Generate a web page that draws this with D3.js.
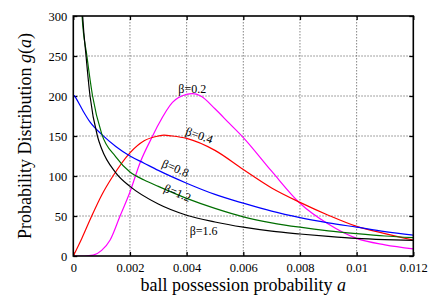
<!DOCTYPE html>
<html>
<head>
<meta charset="utf-8">
<script src="https://cdn.jsdelivr.net/npm/d3@7"></script>
<style>
  body { margin: 0; background: #fff; }
  text { font-family: "Liberation Serif", "DejaVu Serif", serif; fill: #000; }
</style>
</head>
<body>
<div id="chart"></div>
<script>
// tick values and labels
var xTicks = [0, 0.002, 0.004, 0.006, 0.008, 0.01, 0.012];
var xTickLabels = ["0", "0.002", "0.004", "0.006", "0.008", "0.01", "0.012"];
var yTicks = [0, 50, 100, 150, 200, 250, 300];

// curves: [a, g(a)]
var beta02 = [[0, 0], [0.0004, 0], [0.0007, 1], [0.001, 7], [0.0013, 20], [0.00165, 50], [0.002, 80],
  [0.00235, 116], [0.0028, 150], [0.003, 164], [0.0035, 192], [0.004, 202], [0.0042, 203], [0.0045, 200],
  [0.005, 184], [0.0055, 166], [0.006, 148], [0.007, 106], [0.008, 66], [0.009, 40], [0.01, 22],
  [0.011, 14], [0.012, 9]];
var beta04 = [[0, 0], [0.0003, 22], [0.00065, 50], [0.001, 76], [0.0014, 100], [0.002, 129], [0.0025, 144],
  [0.003, 150], [0.0032, 151], [0.0035, 150], [0.004, 147], [0.005, 132], [0.006, 108], [0.007, 85],
  [0.008, 67], [0.009, 51], [0.01, 37], [0.011, 28], [0.012, 20]];
var beta08 = [[0.00003, 201], [0.0001, 197], [0.00035, 181], [0.0006, 167], [0.001, 152], [0.0015, 137],
  [0.002, 125], [0.0025, 116], [0.003, 107], [0.004, 91], [0.005, 77], [0.006, 66], [0.007, 56],
  [0.008, 48], [0.009, 41.5], [0.01, 36], [0.011, 30.5], [0.012, 26]];
var beta12 = [[0.00028, 320], [0.00031, 300], [0.00048, 250], [0.00068, 200], [0.001, 153], [0.0015, 124],
  [0.002, 105], [0.0025, 95], [0.003, 87], [0.004, 72], [0.005, 59.5], [0.006, 49], [0.007, 41.5],
  [0.008, 36], [0.009, 31.5], [0.01, 28], [0.011, 25], [0.012, 23]];
var beta16 = [[0.0003, 320], [0.00033, 300], [0.00045, 250], [0.00059, 200], [0.00085, 150], [0.001, 134],
  [0.0015, 104], [0.002, 87], [0.003, 65], [0.004, 51], [0.005, 42.5], [0.006, 36], [0.007, 31],
  [0.008, 27.5], [0.009, 24.5], [0.01, 22], [0.011, 20.5], [0.012, 19.5]];

var series = [
  {data: beta02, color: "#ff00ff"},
  {data: beta04, color: "#ff0000"},
  {data: beta08, color: "#0000ff"},
  {data: beta12, color: "#006e00"},
  {data: beta16, color: "#000000"}
];

var labels = [
  {text: "β=0.2", a: 0.0042, v: 209, rot: 0},
  {text: "β=0.4", a: 0.00445, v: 151, rot: 20},
  {text: "β=0.8", a: 0.00361, v: 110, rot: 23},
  {text: "β=1.2", a: 0.00368, v: 79, rot: 23},
  {text: "β=1.6", a: 0.00460, v: 31, rot: 0}
];

var width = 436, height = 305;
var mLeft = 73.3, mRight = 413.3, mTop = 16, mBottom = 256;

var svg = d3.select("#chart").append("svg")
  .attr("width", width)
  .attr("height", height);

var x = d3.scaleLinear().domain([0, 0.012]).range([mLeft, mRight]);
var y = d3.scaleLinear().domain([0, 300]).range([mBottom, mTop]);

svg.append("clipPath").attr("id", "clip")
  .append("rect")
  .attr("x", mLeft).attr("y", mTop)
  .attr("width", mRight - mLeft).attr("height", mBottom - mTop);

// grid
var grid = svg.append("g")
  .attr("stroke", "#666")
  .attr("stroke-width", 0.8)
  .attr("stroke-dasharray", "1.5,1.5");
grid.selectAll(".gx").data(xTicks.slice(1, -1)).enter().append("line")
  .attr("x1", function(d) { return x(d); }).attr("x2", function(d) { return x(d); })
  .attr("y1", mTop).attr("y2", mBottom);
grid.selectAll(".gy").data(yTicks.slice(1, -1)).enter().append("line")
  .attr("y1", function(d) { return y(d); }).attr("y2", function(d) { return y(d); })
  .attr("x1", mLeft).attr("x2", mRight);

// axes, ticks pointing inward
svg.append("g").attr("transform", "translate(0," + mBottom + ")")
  .call(d3.axisBottom(x).tickValues(xTicks).tickSize(-4).tickPadding(7)
    .tickFormat(function(d, i) { return xTickLabels[i]; }));
svg.append("g").attr("transform", "translate(0," + mTop + ")")
  .call(d3.axisTop(x).tickValues(xTicks).tickSize(-4).tickFormat(""));
svg.append("g").attr("transform", "translate(" + mLeft + ",0)")
  .call(d3.axisLeft(y).tickValues(yTicks).tickSize(-4).tickPadding(6));
svg.append("g").attr("transform", "translate(" + mRight + ",0)")
  .call(d3.axisRight(y).tickValues(yTicks).tickSize(-4).tickFormat(""));

svg.selectAll(".domain").remove();
svg.selectAll(".tick line").attr("stroke", "#000").attr("stroke-width", 1.3);
svg.selectAll(".tick text")
  .style("font-family", "'Liberation Serif', serif")
  .style("font-size", "12.5px");

// curves
var line = d3.line()
  .x(function(d) { return x(d[0]); })
  .y(function(d) { return y(d[1]); })
  .curve(d3.curveMonotoneX);

svg.append("g").attr("clip-path", "url(#clip)")
  .selectAll("path").data(series).enter().append("path")
  .attr("d", function(d) { return line(d.data); })
  .attr("fill", "none")
  .attr("stroke", function(d) { return d.color; })
  .attr("stroke-width", 1.2);

// frame
svg.append("rect")
  .attr("x", mLeft).attr("y", mTop)
  .attr("width", mRight - mLeft).attr("height", mBottom - mTop)
  .attr("fill", "none").attr("stroke", "#000").attr("stroke-width", 1.6);

// curve labels
svg.selectAll(".lbl").data(labels).enter().append("text")
  .attr("transform", function(d) { return "translate(" + x(d.a) + "," + y(d.v) + ") rotate(" + d.rot + ")"; })
  .attr("text-anchor", "middle")
  .attr("dy", "0.35em")
  .style("font-size", "12px")
  .text(function(d) { return d.text; });

// axis titles
var xt = svg.append("text")
  .attr("x", (mLeft + mRight) / 2).attr("y", 291)
  .attr("text-anchor", "middle")
  .style("font-size", "18px")
  .text("ball possession probability ");
xt.append("tspan").style("font-style", "italic").text("a");

var yt = svg.append("text")
  .attr("transform", "translate(31," + (mTop + mBottom) / 2 + ") rotate(-90)")
  .attr("text-anchor", "middle")
  .style("font-size", "18px")
  .text("Probability Distribution ");
yt.append("tspan").style("font-style", "italic").text("g");
yt.append("tspan").text("(");
yt.append("tspan").style("font-style", "italic").text("a");
yt.append("tspan").text(")");
</script>
</body>
</html>
